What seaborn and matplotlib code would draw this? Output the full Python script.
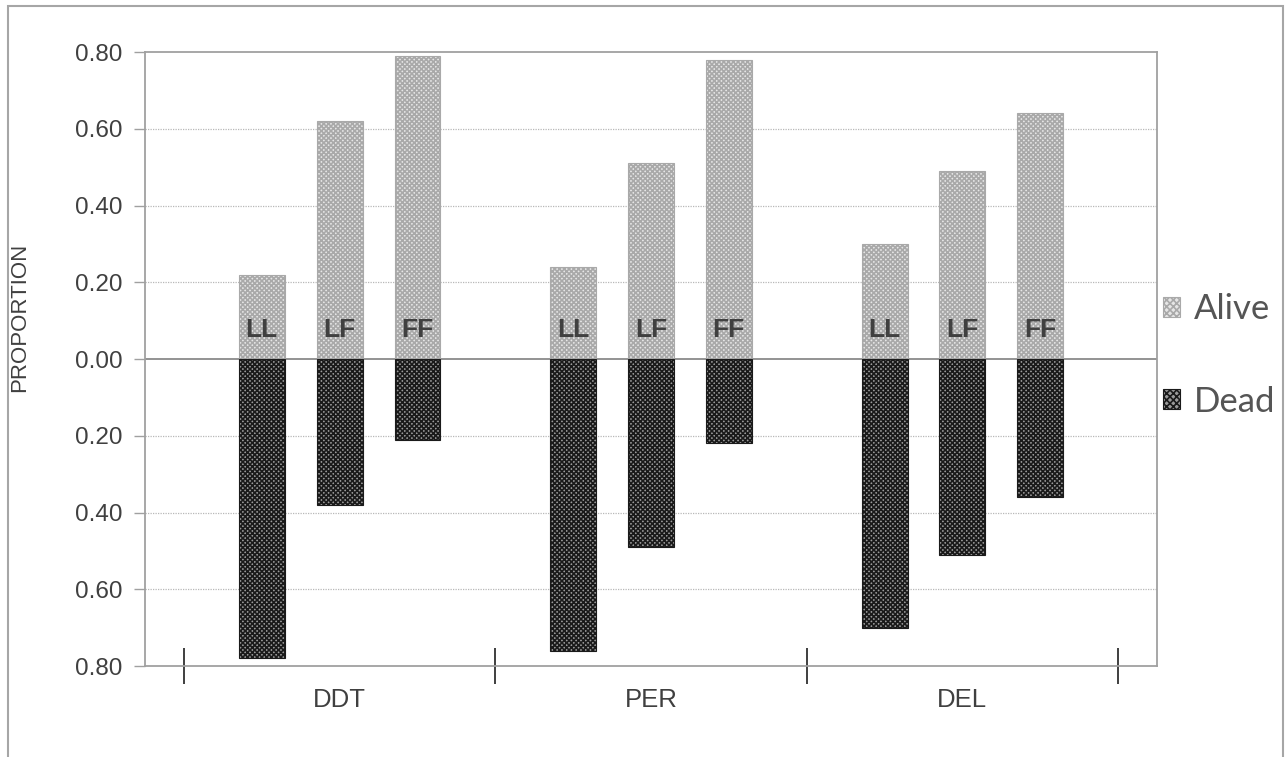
import numpy as np
import pandas as pd
import seaborn as sns
import matplotlib.pyplot as plt
import matplotlib.patches as mpatches

# data
insecticides = ["DDT", "PER", "DEL"]
genotypes = ["LL", "LF", "FF"]
alive = [0.22, 0.62, 0.79, 0.24, 0.51, 0.78, 0.30, 0.49, 0.64]
dead = [0.78, 0.38, 0.21, 0.76, 0.49, 0.22, 0.70, 0.51, 0.36]
yticks = [-0.8, -0.6, -0.4, -0.2, 0.0, 0.2, 0.4, 0.6, 0.8]

# category slots: a blank slot before, between and after the groups
order = []
slots = []
for k, ins in enumerate(insecticides):
    order.append("gap%d" % k)
    for g in genotypes:
        order.append(ins + " " + g)
        slots.append(ins + " " + g)
order.append("gap3")

df = pd.concat([
    pd.DataFrame({"slot": slots, "value": alive, "status": "Alive"}),
    pd.DataFrame({"slot": slots, "value": [-d for d in dead], "status": "Dead"}),
])

sns.set_style("white")
plt.rcParams["font.family"] = ["Liberation Sans", "DejaVu Sans"]
plt.rcParams["hatch.linewidth"] = 1.2

fig = plt.figure(figsize=(12.88, 7.57), dpi=100)
ax = fig.add_axes([0.1126, 0.1202, 0.7857, 0.8111])

sns.barplot(data=df, x="slot", y="value", hue="status", order=order,
            hue_order=["Alive", "Dead"], dodge=False, width=0.59,
            palette={"Alive": "#e4e4e4", "Dead": "#8c8c8c"},
            legend=False, ax=ax)

styles = {0: ("#e6e6e6", "#a9a9a9"), 1: ("#9a9a9a", "#1a1a1a")}
for i, cont in enumerate(ax.containers):
    face, edge = styles[i]
    for p in cont:
        p.set_facecolor(face)
        p.set_edgecolor(edge)
        p.set_hatch("xxxxxxx")
        p.set_linewidth(0.8)

# genotype labels inside the bars
for s in slots:
    ax.text(order.index(s), 0.075, s.split()[1], ha="center", va="center",
            fontsize=19, fontweight="bold", color="#404040")

ax.set_xlim(-0.5, len(order) - 0.5)
ax.set_ylim(-0.8, 0.8)
ax.set_yticks(yticks)
ax.set_yticklabels(["%.2f" % abs(v) for v in yticks])
ax.tick_params(axis="y", length=8, width=1, color="#a0a0a0", labelsize=17.5,
               labelcolor="#404040", pad=8, left=True)

# group separators as major ticks, group names as minor ticks
gap_pos = [i for i, o in enumerate(order) if o.startswith("gap")]
ax.set_xticks(gap_pos)
ax.set_xticklabels([""] * len(gap_pos))
ax.tick_params(axis="x", which="major", direction="inout", length=26,
               width=1.3, color="#303030", bottom=True)
ax.set_xticks([gap_pos[k] + 2 for k in range(len(insecticides))], minor=True)
ax.set_xticklabels(insecticides, minor=True)
ax.tick_params(axis="x", which="minor", length=0, labelsize=18.5,
               labelcolor="#404040", pad=16)

ax.set_xlabel("")
ax.set_ylabel("PROPORTION", fontsize=16, color="#404040")
ax.yaxis.set_label_coords(-0.114, 0.568)

for y in yticks[1:-1]:
    if y == 0:
        ax.axhline(0, color="#8a8a8a", lw=1.3, zorder=0.5)
    else:
        ax.axhline(y, color="#b8b8b8", lw=0.9, ls=(0, (1, 1)), zorder=0.5)

for sp in ax.spines.values():
    sp.set_visible(True)
    sp.set_color("#a0a0a0")
    sp.set_linewidth(1.3)

handles = [mpatches.Patch(facecolor=styles[0][0], edgecolor=styles[0][1], hatch="xxxxx", lw=0.8),
           mpatches.Patch(facecolor=styles[1][0], edgecolor=styles[1][1], hatch="xxxxx", lw=0.8)]
leg = ax.legend(handles, ["Alive", "Dead"], loc="center left",
                bbox_to_anchor=(1.006, 0.506), frameon=False,
                prop={"family": "Lato", "size": 25}, handlelength=0.5,
                handleheight=0.5, handletextpad=0.4, labelspacing=1.75,
                borderpad=0, borderaxespad=0)
for t in leg.get_texts():
    t.set_color("#555555")

# outer chart border
fig.patches.append(mpatches.Rectangle((0.0062, -0.05), 0.9899, 1.042,
                                      transform=fig.transFigure, fill=False,
                                      edgecolor="#a6a6a6", lw=1.5))

plt.savefig("out.png", dpi=100)
